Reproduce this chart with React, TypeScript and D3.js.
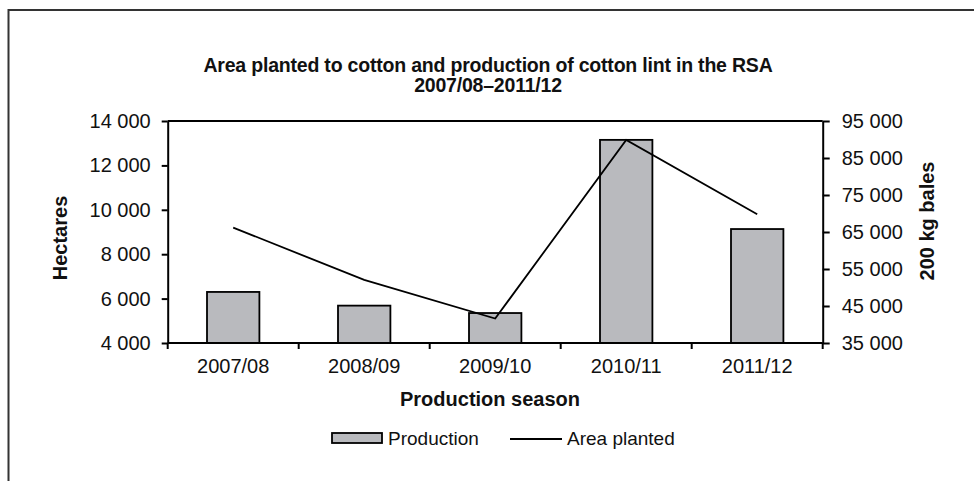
import { useEffect, useRef } from 'react';
import * as d3 from 'd3';

const seasons = ['2007/08', '2008/09', '2009/10', '2010/11', '2011/12'];
// 200 kg bales (right axis)
const production = [48800, 45100, 43100, 89900, 65800];
// hectares (left axis)
const areaPlanted = [9200, 6840, 5100, 13150, 9800];
const hectareTicks = [4000, 6000, 8000, 10000, 12000, 14000];
const baleTicks = [35000, 45000, 55000, 65000, 75000, 85000, 95000];

const FONT = '"Liberation Sans", Arial, sans-serif';

function App() {
  const ref = useRef(null);

  const svgWidth = 974;
  const svgHeight = 481;

  useEffect(() => {
    getChart();
  }, []);

  function getChart() {
    const left = 167.7;
    const right = 822.7;
    const top = 121;
    const bottom = 343;

    const fmt = d3.formatLocale({
      decimal: '.',
      thousands: '\u00a0',
      grouping: [3],
      currency: ['', ''],
    }).format(',');

    const svg = d3.select(ref.current);
    svg.selectAll('*').remove();

    // Outer frame (runs off the right and bottom edges)
    svg
      .append('rect')
      .attr('x', 8.5)
      .attr('y', 10)
      .attr('width', 1000)
      .attr('height', 600)
      .attr('fill', 'white')
      .attr('stroke', '#333')
      .attr('stroke-width', 2);

    // Title
    const title = svg
      .append('text')
      .attr('text-anchor', 'middle')
      .attr('font-family', FONT)
      .attr('font-weight', 'bold')
      .attr('font-size', 19.5)
      .attr('letter-spacing', -0.2)
      .attr('fill', '#111');
    title
      .append('tspan')
      .attr('x', 488)
      .attr('y', 72)
      .text('Area planted to cotton and production of cotton lint in the RSA');
    title.append('tspan').attr('x', 488).attr('y', 92).text('2007/08–2011/12');

    // Scales
    const x = d3
      .scaleBand()
      .domain(seasons)
      .range([left, right])
      .paddingInner(0.6)
      .paddingOuter(0.3);

    const yLeft = d3.scaleLinear().domain([4000, 14000]).range([bottom, top]);
    const yRight = d3.scaleLinear().domain([35000, 95000]).range([bottom, top]);

    // Bars (production, right axis)
    svg
      .append('g')
      .selectAll()
      .data(production)
      .join('rect')
      .attr('x', (_, i) => x(seasons[i]) as number)
      .attr('y', (d) => yRight(d))
      .attr('width', x.bandwidth())
      .attr('height', (d) => yRight(35000) - yRight(d))
      .attr('fill', '#b9babe')
      .attr('stroke', '#000')
      .attr('stroke-width', 1.8);

    // Line (area planted, left axis)
    const line = d3
      .line<number>()
      .x((_, i) => (x(seasons[i]) as number) + x.bandwidth() / 2)
      .y((d) => yLeft(d));
    svg
      .append('path')
      .datum(areaPlanted)
      .attr('d', line)
      .attr('fill', 'none')
      .attr('stroke', '#000')
      .attr('stroke-width', 1.8);

    // Top border of plot area
    svg
      .append('line')
      .attr('x1', left)
      .attr('x2', right)
      .attr('y1', top)
      .attr('y2', top)
      .attr('stroke', '#000')
      .attr('stroke-width', 2);

    // Left axis
    const gLeft = svg
      .append('g')
      .attr('transform', `translate(${left}, 0)`)
      .call(
        d3
          .axisLeft(yLeft)
          .tickValues(hectareTicks)
          .tickFormat((d) => fmt(d as number))
          .tickSize(6)
          .tickPadding(11)
          .tickSizeOuter(0)
      );
    // Right axis
    const gRight = svg
      .append('g')
      .attr('transform', `translate(${right}, 0)`)
      .call(
        d3
          .axisRight(yRight)
          .tickValues(baleTicks)
          .tickFormat((d) => fmt(d as number))
          .tickSize(7)
          .tickPadding(12)
          .tickSizeOuter(0)
      );
    [gLeft, gRight].forEach((g) => {
      g.selectAll('path, line').attr('stroke', '#000').attr('stroke-width', 2);
      g.selectAll('text')
        .attr('font-family', FONT)
        .attr('font-size', 20)
        .attr('fill', '#111');
    });

    // Bottom axis: line, boundary ticks, labels
    const gBottom = svg.append('g');
    gBottom
      .append('line')
      .attr('x1', left)
      .attr('x2', right)
      .attr('y1', bottom)
      .attr('y2', bottom)
      .attr('stroke', '#000')
      .attr('stroke-width', 2);
    const boundaries = seasons
      .map((s) => (x(s) as number) - x.step() * x.paddingOuter())
      .concat([right]);
    gBottom
      .selectAll('.tick-b')
      .data(boundaries)
      .join('line')
      .attr('x1', (d) => d)
      .attr('x2', (d) => d)
      .attr('y1', bottom)
      .attr('y2', bottom + 6)
      .attr('stroke', '#000')
      .attr('stroke-width', 2);
    gBottom
      .selectAll('.label-b')
      .data(seasons)
      .join('text')
      .attr('x', (d) => (x(d) as number) + x.bandwidth() / 2)
      .attr('y', 373)
      .attr('text-anchor', 'middle')
      .attr('font-family', FONT)
      .attr('font-size', 20)
      .attr('fill', '#111')
      .text((d) => d);

    // Axis titles
    svg
      .append('text')
      .attr('x', 490)
      .attr('y', 406)
      .attr('text-anchor', 'middle')
      .attr('font-family', FONT)
      .attr('font-weight', 'bold')
      .attr('font-size', 20)
      .attr('fill', '#111')
      .text('Production season');
    svg
      .append('text')
      .attr('transform', 'translate(67, 238) rotate(-90)')
      .attr('text-anchor', 'middle')
      .attr('font-family', FONT)
      .attr('font-weight', 'bold')
      .attr('font-size', 20)
      .attr('fill', '#111')
      .text('Hectares');
    svg
      .append('text')
      .attr('transform', 'translate(934, 221) rotate(-90)')
      .attr('text-anchor', 'middle')
      .attr('font-family', FONT)
      .attr('font-weight', 'bold')
      .attr('font-size', 20)
      .attr('fill', '#111')
      .text('200 kg bales');

    // Legend
    const legend = svg.append('g');
    legend
      .append('rect')
      .attr('x', 332)
      .attr('y', 433)
      .attr('width', 50)
      .attr('height', 10)
      .attr('fill', '#b9babe')
      .attr('stroke', '#000')
      .attr('stroke-width', 1.8);
    legend
      .append('text')
      .attr('x', 388)
      .attr('y', 445)
      .attr('font-family', FONT)
      .attr('font-size', 19)
      .attr('fill', '#111')
      .text('Production');
    legend
      .append('line')
      .attr('x1', 510)
      .attr('x2', 562)
      .attr('y1', 439)
      .attr('y2', 439)
      .attr('stroke', '#000')
      .attr('stroke-width', 1.8);
    legend
      .append('text')
      .attr('x', 567)
      .attr('y', 445)
      .attr('font-family', FONT)
      .attr('font-size', 19)
      .attr('fill', '#111')
      .text('Area planted');
  }

  return (
    <svg
      ref={ref}
      width={svgWidth}
      height={svgHeight}
      style={{ position: 'absolute', left: 0, top: 0, display: 'block' }}
    ></svg>
  );
}

export default App;
